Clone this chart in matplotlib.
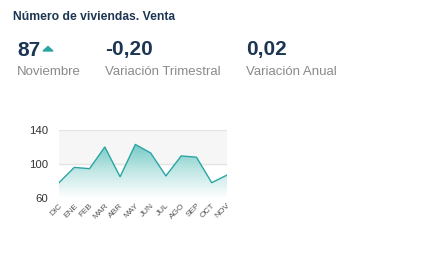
import matplotlib.pyplot as plt
import numpy as np
from matplotlib.colors import LinearSegmentedColormap
from matplotlib.patches import Polygon

plt.rcParams['font.family'] = ['Liberation Sans', 'DejaVu Sans']

months = ['DIC', 'ENE', 'FEB', 'MAR', 'ABR', 'MAY', 'JUN', 'JUL', 'AGO', 'SEP', 'OCT', 'NOV']
values = [78, 96, 94.5, 120, 85, 123, 113, 86, 109.5, 108, 78, 87]
yticks = [60, 100, 140]

title = 'Número de viviendas. Venta'
kpi_values = ['87', '-0,20', '0,02']
kpi_labels = ['Noviembre', 'Variación Trimestral', 'Variación Anual']
kpi_x = [17, 105, 246]

W, H = 437, 264
fig = plt.figure(figsize=(W / 100, H / 100), dpi=100)
fig.patch.set_facecolor('white')

navy = '#1c3553'
teal = '#2aa5a4'

fig.text(13 / W, 1 - 17 / H, title, fontsize=8.7, fontweight='bold', color=navy, va='center', ha='left')
for x, v, lab in zip(kpi_x, kpi_values, kpi_labels):
    fig.text(x / W, 1 - 50 / H, v, fontsize=15, fontweight='bold', color=navy, va='center', ha='left')
    fig.text(x / W, 1 - 72 / H, lab, fontsize=9.5, color='#8a8a8a', va='center', ha='left')
# flecha de subida
tri = Polygon([[43 / W, 1 - 51 / H], [53 / W, 1 - 51 / H], [48 / W, 1 - 46.5 / H]],
              closed=True, color=teal, transform=fig.transFigure)
fig.patches.append(tri)

ax = fig.add_axes([59 / W, 66 / H, 168 / W, 68 / H])
x = np.arange(len(values))
ax.set_xlim(0, len(values) - 1)
ax.set_ylim(60, 140)

# banda gris
ax.axhspan(100, 140, color='#f6f6f6', zorder=0)
for y in yticks:
    ax.axhline(y, color='#e4e4e4', lw=1, zorder=1)

# relleno degradado
poly = ax.fill_between(x, values, 60, color='none', lw=0)
cmap = LinearSegmentedColormap.from_list('g', ['#ffffff', '#bfe6e4', '#6fc8c4'])
grad = np.linspace(0, 1, 256).reshape(-1, 1)
im = ax.imshow(grad, extent=[0, len(values) - 1, 60, 125], origin='lower', aspect='auto',
               cmap=cmap, zorder=2)
im.set_clip_path(poly.get_paths()[0], transform=ax.transData)
ax.set_xlim(0, len(values) - 1)
ax.set_ylim(60, 140)
ax.plot(x, values, color=teal, lw=1, zorder=3)

ax.set_yticks(yticks)
ax.set_yticklabels([str(t) for t in yticks], fontsize=8.2, color='#333333')
ax.set_xticks(x)
ax.set_xticklabels(months, rotation=45, ha='right', rotation_mode='anchor', fontsize=6, color='#555555')
ax.tick_params(axis='both', length=0, pad=2)
ax.tick_params(axis='y', pad=8)
ax.tick_params(axis='x', pad=3)
for s in ax.spines.values():
    s.set_visible(False)

plt.savefig('out.png', dpi=100)
